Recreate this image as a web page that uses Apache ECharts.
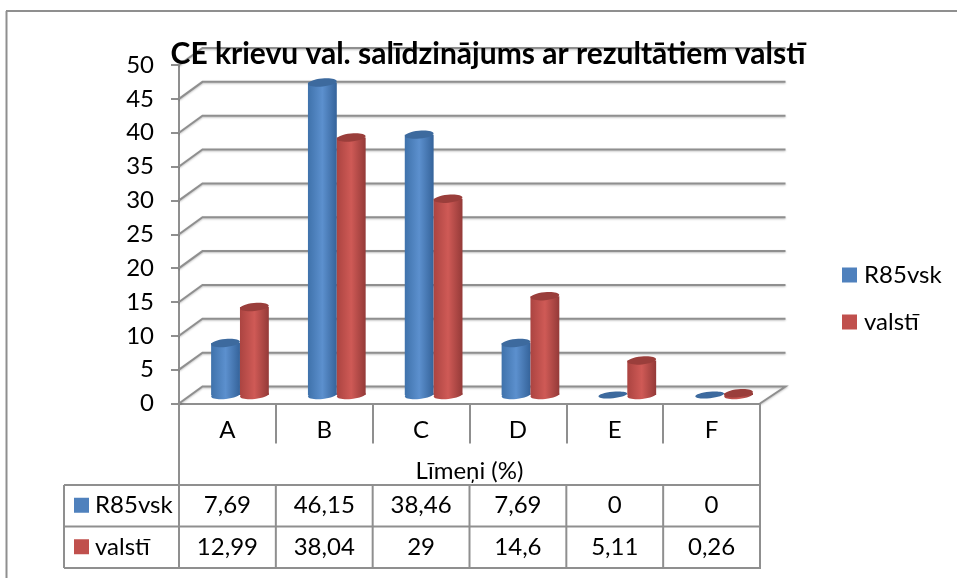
<!DOCTYPE html>
<html>
<head>
<meta charset="utf-8">
<style>html,body{margin:0;padding:0;background:#fff}#c{width:957px;height:578px}</style>
<script src="https://cdn.jsdelivr.net/npm/echarts@6/dist/echarts.min.js"></script>
</head>
<body>
<div id="c"></div>
<script>
var categories = ['A', 'B', 'C', 'D', 'E', 'F'];
var seriesNames = ['R85vsk', 'valstī'];
var r85vsk = [7.69, 46.15, 38.46, 7.69, 0, 0];
var valsti = [12.99, 38.04, 29, 14.6, 5.11, 0.26];
var yTicks = [0, 5, 10, 15, 20, 25, 30, 35, 40, 45, 50];
var titleText = 'CE krievu val. salīdzinājums ar rezultātiem valstī';
var axisName = 'Līmeņi (%)';

var FONT = 'Lato, sans-serif';
var GRAY = '#8f8f8f';
var G = {left: 179, top: 65, width: 581, height: 338.5};
var DEPTH = {x: 23.5, y: -17};
var TABLE = {left: 64, y0: 485, y1: 526.5, y2: 568};
var PAL = [
  {base: '#4F81BD', top: '#3D6A9E', l: '#3F72AB', m: '#5C90CE', r: '#35639A'},
  {base: '#C0504D', top: '#9A3E3B', l: '#AB4441', m: '#CF5A56', r: '#943A38'}
];

function cylinder(idx) {
  return function (params, api) {
    var cat = api.value(0), val = api.value(1);
    var top = api.coord([cat, val]), bottom = api.coord([cat, 0]);
    var w = api.size([1, 0])[0] * 0.298, rx = w / 2, ry = 4;
    var cx = top[0] + DEPTH.x / 2 + 0.8 + (idx === 0 ? -rx : rx);
    var yTop = top[1] + DEPTH.y / 2, yBot = bottom[1] + DEPTH.y / 2;
    var p = PAL[idx];
    var grad = {type: 'linear', x: 0, y: 0, x2: 1, y2: 0, colorStops: [
      {offset: 0, color: p.l}, {offset: 0.5, color: p.m}, {offset: 1, color: p.r}]};
    var tilt = 0.1;
    var kids = [];
    if (val > 0) {
      kids.push({type: 'ellipse', x: cx, y: yBot, rotation: tilt, shape: {cx: 0, cy: 0, rx: rx, ry: ry}, style: {fill: grad}});
      kids.push({type: 'rect', shape: {x: cx - rx, y: yTop, width: w, height: yBot - yTop}, style: {fill: grad}});
    }
    kids.push({type: 'ellipse', x: cx, y: yTop, rotation: tilt, shape: {cx: 0, cy: 0, rx: rx, ry: val > 0 ? ry : 3.2}, style: {fill: p.top}});
    return {type: 'group', children: kids};
  };
}

function wallLine(params, api) {
  var s = params.coordSys, t = api.value(0);
  var y = api.coord([0, t])[1], xl = s.x, xr = s.x + s.width;
  var isFloor = t === 0;
  var st = {stroke: GRAY, lineWidth: 2, fill: 'none', shadowBlur: 2, shadowColor: 'rgba(0,0,0,0.25)', shadowOffsetY: 1};
  var pts = [[xl, y], [xl + DEPTH.x, y + DEPTH.y], [xr + 2 + DEPTH.x, y + DEPTH.y]];
  if (isFloor) pts.push([xr, y]);
  return {type: 'polyline', shape: {points: pts}, style: st};
}

function fmt(v) { return String(v).replace('.', ','); }

function tableGraphics() {
  var g = [];
  var colW = G.width / categories.length;
  var right = G.left + G.width;
  function line(x1, y1, x2, y2) {
    g.push({type: 'line', shape: {x1: x1, y1: y1, x2: x2, y2: y2}, style: {stroke: GRAY, lineWidth: 2}, z: 3});
  }
  function txt(x, y, s, align) {
    g.push({type: 'text', x: x, y: y, style: {text: s, font: '24px ' + FONT, fill: '#000', align: align, verticalAlign: 'middle'}, z: 4});
  }
  line(G.left, G.top + G.height, G.left, TABLE.y2);
  line(right, G.top + G.height, right, TABLE.y2 + 1);
  line(TABLE.left, TABLE.y0, right, TABLE.y0);
  line(TABLE.left, TABLE.y1, right, TABLE.y1);
  line(TABLE.left, TABLE.y2, right, TABLE.y2);
  line(TABLE.left, TABLE.y0, TABLE.left, TABLE.y2);
  for (var i = 1; i < categories.length; i++) {
    line(G.left + i * colW, TABLE.y0, G.left + i * colW, TABLE.y2);
  }
  [r85vsk, valsti].forEach(function (vals, r) {
    var yc = r === 0 ? (TABLE.y0 + TABLE.y1) / 2 : (TABLE.y1 + TABLE.y2) / 2;
    g.push({type: 'rect', shape: {x: 74, y: yc - 8, width: 15, height: 15}, style: {fill: PAL[r].base}, z: 4});
    txt(95, yc, seriesNames[r], 'left');
    vals.forEach(function (v, i) {
      txt(G.left + (i + 0.5) * colW, yc, fmt(v), 'center');
    });
  });
  // chart frame
  g.push({type: 'line', shape: {x1: 6.5, y1: 578, x2: 6.5, y2: 11}, style: {stroke: GRAY, lineWidth: 2}, z: 1});
  g.push({type: 'line', shape: {x1: 6, y1: 11, x2: 957, y2: 11}, style: {stroke: GRAY, lineWidth: 2}, z: 1});
  return g;
}

var chart = echarts.init(document.getElementById('c'), null, {renderer: 'canvas'});
chart.setOption({
  animation: false,
  backgroundColor: '#fff',
  title: {
    text: titleText, left: 483, top: 32, textAlign: 'center',
    textStyle: {fontFamily: FONT, fontWeight: 'bold', fontSize: 30, color: '#000', lineHeight: 34}
  },
  legend: {
    data: seriesNames, orient: 'vertical', left: 837, top: 258, itemWidth: 15, itemHeight: 15,
    itemGap: 23, icon: 'rect', textStyle: {fontFamily: FONT, fontSize: 24, color: '#000', padding: [0, 0, 0, 2]},
    selectedMode: false
  },
  grid: {left: G.left, top: G.top, width: G.width, height: G.height, containLabel: false},
  xAxis: {
    type: 'category', data: categories,
    name: axisName, nameLocation: 'middle', nameGap: 56,
    nameTextStyle: {fontFamily: FONT, fontSize: 24, color: '#000'},
    axisLine: {show: true, lineStyle: {color: GRAY, width: 2}},
    axisTick: {show: true, alignWithLabel: false, length: 40, lineStyle: {color: GRAY, width: 2}},
    axisLabel: {fontFamily: FONT, fontSize: 24, color: '#000', margin: 15},
    splitLine: {show: false}
  },
  yAxis: {
    type: 'value', min: 0, max: 50, interval: 5,
    axisLine: {show: true, lineStyle: {color: GRAY, width: 2}},
    axisTick: {show: true, length: 8, lineStyle: {color: GRAY, width: 2}},
    axisLabel: {fontFamily: FONT, fontSize: 24, color: '#000', margin: 25},
    splitLine: {show: false}
  },
  graphic: tableGraphics(),
  series: [
    {type: 'custom', name: 'walls', silent: true, z: 1, clip: false, coordinateSystem: 'cartesian2d',
     renderItem: wallLine, encode: {y: 0}, data: yTicks.map(function (t) { return [t]; })},
    {type: 'custom', name: seriesNames[0], z: 3, clip: false, renderItem: cylinder(0),
     itemStyle: {color: PAL[0].base}, encode: {x: 0, y: 1},
     data: r85vsk.map(function (v, i) { return [i, v]; })},
    {type: 'custom', name: seriesNames[1], z: 4, clip: false, renderItem: cylinder(1),
     itemStyle: {color: PAL[1].base}, encode: {x: 0, y: 1},
     data: valsti.map(function (v, i) { return [i, v]; })}
  ]
});
</script>
</body>
</html>
